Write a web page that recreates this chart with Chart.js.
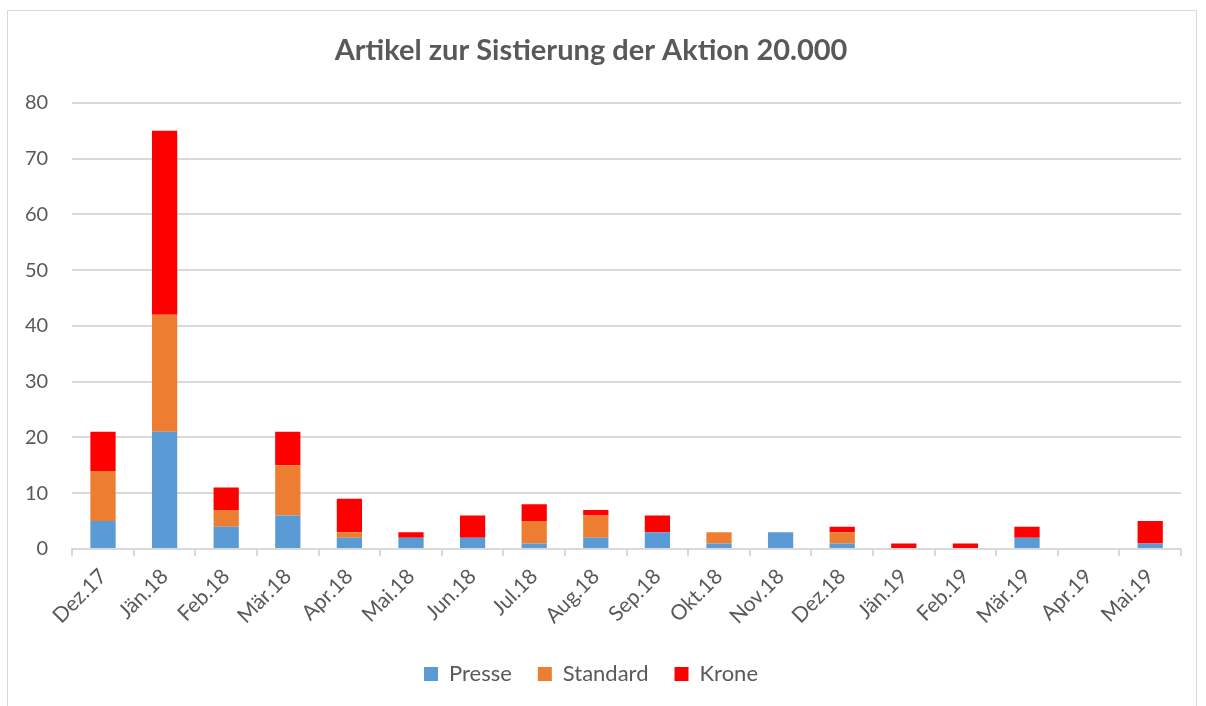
<!DOCTYPE html>
<html><head><meta charset="utf-8">
<script src="https://cdn.jsdelivr.net/npm/chart.js@4.4.1/dist/chart.umd.min.js"></script>
<style>
html,body{margin:0;padding:0;background:#fff;}
#frame{position:absolute;left:7px;top:10px;width:1190px;height:700px;border:1px solid #d9d9d9;box-sizing:border-box;}
#wrap{position:absolute;left:0;top:0;width:1188px;height:698px;}
</style></head><body>
<div id="frame"><div id="wrap"><canvas id="c"></canvas></div></div>
<script>
const categories = ["Dez.17","Jän.18","Feb.18","Mär.18","Apr.18","Mai.18","Jun.18","Jul.18","Aug.18","Sep.18","Okt.18","Nov.18","Dez.18","Jän.19","Feb.19","Mär.19","Apr.19","Mai.19"];
const presse   = [5,21,4,6,2,2,2,1,2,3,1,3,1,0,0,2,0,1];
const standard = [9,21,3,9,1,0,0,4,4,0,2,0,2,0,0,0,0,0];
const krone    = [7,33,4,6,6,1,4,3,1,3,0,0,1,1,1,2,0,4];
const yTicks = [0,10,20,30,40,50,60,70,80];
const title = "Artikel zur Sistierung der Aktion 20.000";

const FONT = "Lato, 'Open Sans', sans-serif";
new Chart(document.getElementById('c'), {
  type: 'bar',
  data: {
    labels: categories,
    datasets: [
      {label:'Presse', data:presse, backgroundColor:'#5b9bd5'},
      {label:'Standard', data:standard, backgroundColor:'#ed7d31'},
      {label:'Krone', data:krone, backgroundColor:'#ff0000'}
    ]
  },
  options: {
    responsive:true, maintainAspectRatio:false, animation:false,
    layout:{padding:{left:-7,right:15,top:12,bottom:14}},
    datasets:{bar:{barPercentage:0.41,categoryPercentage:1}},
    plugins:{
      title:{display:true,text:title,color:'#595959',font:{family:FONT,size:29,weight:'bold'},padding:{top:10,bottom:35}},
      legend:{position:'bottom',labels:{color:'#595959',font:{family:FONT,size:22},boxWidth:14,boxHeight:14,padding:26},reverse:false},
      tooltip:{enabled:false}
    },
    scales:{
      x:{stacked:true,
        grid:{display:true,drawOnChartArea:false,drawTicks:true,tickLength:7,color:'#d9d9d9',lineWidth:2,offset:true},
        border:{display:true,color:'#d9d9d9',width:2},
        ticks:{color:'#595959',font:{family:FONT,size:21},maxRotation:45,minRotation:45,padding:8}
      },
      y:{stacked:true,min:0,max:80,
        afterBuildTicks:(ax)=>{ax.ticks=yTicks.map(v=>({value:v}));},
        grid:{color:'#d9d9d9',lineWidth:2,drawTicks:false},
        border:{display:false},
        ticks:{color:'#595959',font:{family:FONT,size:20},padding:24}
      }
    }
  }
});
</script>
</body></html>
